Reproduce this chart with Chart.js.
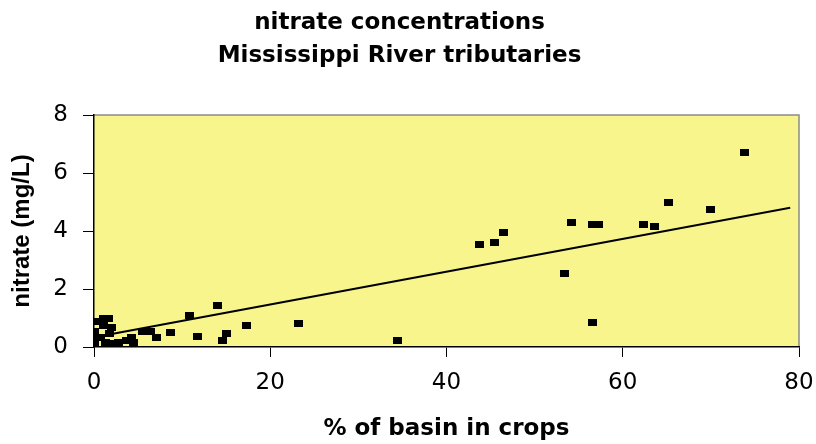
<!DOCTYPE html>
<html>
<head>
<meta charset="utf-8">
<script src="https://cdn.jsdelivr.net/npm/chart.js@4.4.0/dist/chart.umd.min.js"></script>
<style>
  body { margin: 0; background: #fff; }
  #wrap { width: 816px; height: 444px; }
</style>
</head>
<body>
<div id="wrap"><canvas id="myChart" width="816" height="444"></canvas></div>
<script>
// % of basin in crops (x) and nitrate mg/L (y)
var cropPct = [0.1, 1.05, 1.6, 1.05, 2.0, 0, 0.7, 1.25, 2.0, 2.8, 3.7, 4.5, 4.3, 0, 0.1, 1.8,
  5.5, 6.4, 7.1, 8.7, 10.8, 11.7, 14.0, 14.6, 15.0, 17.3, 23.2, 34.4,
  43.8, 45.4, 46.5, 53.4, 54.2, 56.6, 57.2, 56.6, 62.3, 63.6, 65.2, 70.0, 73.8]
var nitrate = [0.88, 1.0, 0.97, 0.74, 0.68, 0.28, 0.34, 0.17, 0.11, 0.17, 0.22, 0.17, 0.34, 0.1, 0.55, 0.45,
  0.55, 0.55, 0.32, 0.51, 1.09, 0.37, 1.43, 0.22, 0.46, 0.74, 0.80, 0.23,
  3.54, 3.60, 3.96, 2.55, 4.30, 4.23, 4.23, 0.86, 4.23, 4.16, 5.0, 4.74, 6.70]

// linear trend line ends
var trendX = [2, 79]
var trendY = [0.45, 4.8]

var xTicks = [0, 20, 40, 60, 80]
var yTicks = [0, 2, 4, 6, 8]

var points = cropPct.map(function(x, i) { return {x: x, y: nitrate[i]} })
var trend = trendX.map(function(x, i) { return {x: x, y: trendY[i]} })

// little black box marker, a bit wider than tall
var marker = document.createElement('canvas')
marker.width = 9
marker.height = 7
var mctx = marker.getContext('2d')
mctx.fillStyle = '#000'
mctx.fillRect(0, 0, 9, 7)

var plotBg = {
  id: 'plotBg',
  beforeDraw: function(chart) {
    var a = chart.chartArea, c = chart.ctx
    c.save()
    c.fillStyle = '#f7f58b'
    c.fillRect(a.left, a.top, a.right - a.left, a.bottom - a.top)
    c.strokeStyle = '#8c8c8c'
    c.lineWidth = 1.5
    c.beginPath()
    c.moveTo(a.left, a.top)
    c.lineTo(a.right, a.top)
    c.lineTo(a.right, a.bottom)
    c.stroke()
    c.restore()
  }
}

Chart.defaults.color = '#000'

var ctx = document.getElementById('myChart')
var chart = new Chart(ctx, {
  type: 'scatter',
  data: {
    datasets: [{
      label: 'nitrate',
      data: points,
      pointStyle: marker,
      pointRadius: 4,
      backgroundColor: '#000',
      borderColor: '#000'
    }, {
      label: 'trend',
      type: 'line',
      data: trend,
      borderColor: '#000',
      borderWidth: 2,
      pointRadius: 0,
      fill: false
    }]
  },
  options: {
    responsive: false,
    animation: false,
    layout: { padding: { left: 0, right: 17, top: 0, bottom: 0 } },
    plugins: {
      legend: { display: false },
      tooltip: { enabled: false },
      title: {
        display: true,
        text: ['nitrate concentrations', 'Mississippi River tributaries'],
        color: '#000',
        font: { family: 'DejaVu Sans', size: 23, weight: 'bold', lineHeight: 1.435 },
        padding: { top: 7, bottom: 42 }
      }
    },
    scales: {
      x: {
        type: 'linear',
        min: 0,
        max: 80,
        afterBuildTicks: function(s) { s.ticks = xTicks.map(function(v) { return {value: v} }) },
        afterFit: function(s) {
          s.height = 97
          s.paddingLeft = 0
          s.paddingRight = 0
        },
        grid: { drawOnChartArea: false, drawTicks: true, tickLength: 10, color: '#000' },
        border: { display: true, color: '#000', width: 1.5 },
        ticks: { font: { family: 'DejaVu Sans', size: 23 }, padding: 12, maxRotation: 0 },
        title: {
          display: true,
          text: '% of basin in crops',
          font: { family: 'DejaVu Sans', size: 23, weight: 'bold' },
          padding: { top: 0, bottom: 1 }
        }
      },
      y: {
        type: 'linear',
        min: 0,
        max: 8,
        afterBuildTicks: function(s) { s.ticks = yTicks.map(function(v) { return {value: v} }) },
        afterFit: function(s) { s.width = 94 },
        grid: { drawOnChartArea: false, drawTicks: true, tickLength: 11, color: '#000' },
        border: { display: true, color: '#000', width: 1.5 },
        ticks: { font: { family: 'DejaVu Sans', size: 23 }, padding: 15 },
        title: {
          display: true,
          text: 'nitrate (mg/L)',
          font: { family: 'Liberation Sans', size: 24, weight: 'bold' },
          padding: { top: 8, bottom: 8 }
        }
      }
    }
  },
  plugins: [plotBg]
})
</script>
</body>
</html>
